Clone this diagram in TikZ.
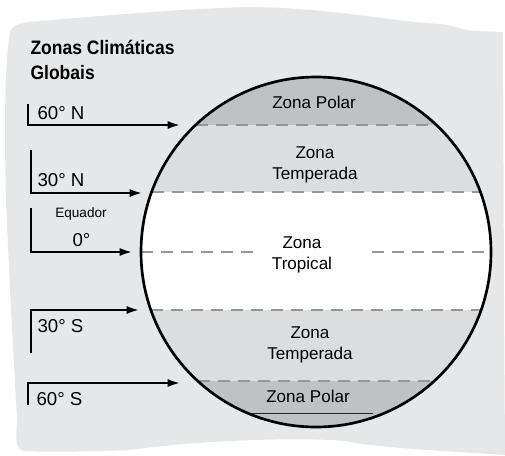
\documentclass[tikz,border=0pt]{standalone}
\usepackage{fontspec}
\setmainfont{Liberation Sans}
\newfontfamily\narrowfont[FakeStretch=0.9]{Liberation Sans}
\usetikzlibrary{arrows.meta}

\definecolor{bgGray}{RGB}{230,231,232}
\definecolor{polarGray}{RGB}{192,193,195}
\definecolor{tempGray}{RGB}{220,221,223}
\definecolor{dashGray}{RGB}{150,150,152}

\tikzset{every picture/.style={line width=0.75pt}}
\tikzset{
  zonetext/.style={inner sep=0pt, align=center, font=\fontsize{12.8}{15.8}\selectfont},
  latlabel/.style={anchor=west, inner sep=0pt, font=\fontsize{14}{16}\selectfont},
  latarrow/.style={line width=2pt, -{Latex[length=10pt,width=6pt]}},
  zoneline/.style={dashGray, line width=2.2pt, dash pattern=on 9pt off 6pt},
}

\begin{document}
\begin{tikzpicture}[x=0.75pt,y=0.75pt,yscale=-1,xscale=1]
\useasboundingbox (0,0) rectangle (505,455);

%Shape: Background
\fill [bgGray] (10,32) .. controls (14,24) and (22,22) .. (40,21) .. controls (120,14) and (200,8) .. (250,7) .. controls (330,8) and (380,20) .. (440,24) .. controls (455,25) and (460,30) .. (475,31) -- (503,32) -- (504,300) -- (505,455) .. controls (430,450) and (380,448) .. (345,441) .. controls (300,437) and (200,440) .. (130,450) .. controls (80,452) and (40,452) .. (25,451) .. controls (15,450) and (16,440) .. (17,420) .. controls (15,380) and (10,300) .. (6,200) .. controls (4,120) and (5,60) .. (10,32) -- cycle ;

%Shape: Zones
\begin{scope}
\clip (316,252) circle (175) ;
\fill [polarGray] (130,70) rectangle (500,125) ;
\fill [tempGray] (130,125) rectangle (500,192) ;
\fill [white] (130,192) rectangle (500,310) ;
\fill [tempGray] (130,310) rectangle (500,381) ;
\fill [polarGray] (130,381) rectangle (500,430) ;
%Dashed Lines
\draw [zoneline] (196,125) -- (437,125) ;
\draw [zoneline] (152,192) -- (481,192) ;
\draw [zoneline] (141,252) -- (255,252) ;
\draw [zoneline] (372,252) -- (491,252) ;
\draw [zoneline] (151,310) -- (481,310) ;
\draw [zoneline] (198,381) -- (434,381) ;
\draw [black!85] (250,413) -- (373,413) ;
\end{scope}

%Shape: Circle
\draw [line width=2pt] (316,252) circle (175) ;

% Coordinates
\coordinate (nsixtyTop) at (28,104) ;
\coordinate (nsixtyTip) at (181,125) ;
\coordinate (nthirtyTop) at (31,150) ;
\coordinate (nthirtyTip) at (143,193) ;
\coordinate (eqTop) at (31,208) ;
\coordinate (eqTip) at (133,252) ;
\coordinate (sthirtyBot) at (31,353) ;
\coordinate (sthirtyTip) at (140,310) ;
\coordinate (ssixtyBot) at (28,405) ;
\coordinate (ssixtyTip) at (181,383) ;

%Straight Lines
\draw [latarrow] (nsixtyTop) |- (nsixtyTip) ;
\draw [latarrow] (nthirtyTop) |- (nthirtyTip) ;
\draw [latarrow] (eqTop) |- (eqTip) ;
\draw [latarrow] (sthirtyBot) |- (sthirtyTip) ;
\draw [latarrow] (ssixtyBot) |- (ssixtyTip) ;

% Text Node
\node (title) [anchor=north west, inner sep=0pt, align=left, font=\narrowfont\bfseries\fontsize{14.6}{18.5}\selectfont] at (30,40) {Zonas Climáticas\\Globais} ;
% Text Node
\node (lblNsixty) [latlabel] at (37,113) {60°~N} ;
% Text Node
\node (lblNthirty) [latlabel] at (37,180) {30°~N} ;
% Text Node
\node (lblEq) [inner sep=0pt, font=\fontsize{10.2}{12}\selectfont] at (81,214) {Equador} ;
% Text Node
\node (lblZero) [latlabel] at (72,240) {0°} ;
% Text Node
\node (lblSthirty) [latlabel] at (37,326) {30°~S} ;
% Text Node
\node (lblSsixty) [latlabel] at (36,399) {60°~S} ;
% Text Node
\node (polarN) [zonetext] at (314,102) {Zona Polar} ;
% Text Node
\node (tempN) [zonetext] at (315,165) {Zona\\Temperada} ;
% Text Node
\node (tropic) [zonetext] at (302,255) {Zona\\Tropical} ;
% Text Node
\node (tempS) [zonetext] at (310,345) {Zona\\Temperada} ;
% Text Node
\node (polarS) [zonetext] at (308,396) {Zona Polar} ;

\end{tikzpicture}
\end{document}
